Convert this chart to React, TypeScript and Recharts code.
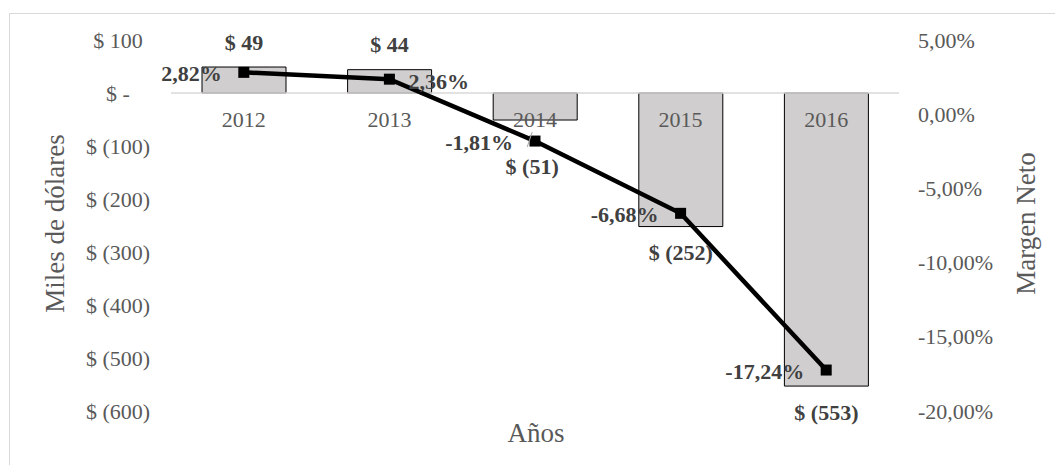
import React from 'react';
import { ComposedChart, Bar, Line, XAxis, YAxis, ReferenceLine, LabelList } from 'recharts';

const years = ['2012', '2013', '2014', '2015', '2016'];
const netIncome = [49, 44, -51, -252, -553];
const netMargin = [2.82, 2.36, -1.81, -6.68, -17.24];
const leftTicks = [100, 0, -100, -200, -300, -400, -500, -600];
const rightTicks = [5, 0, -5, -10, -15, -20];

const data = years.map((year, i) => ({ year, income: netIncome[i], margin: netMargin[i] }));

const FONT = '"Liberation Serif", "Times New Roman", serif';
const TICK_COLOR = '#595959';
const LABEL_COLOR = '#404040';
const TICK_SIZE = 22;
const LABEL_SIZE = 22;
const TITLE_SIZE = 27;

const lineLabelSide = ['left', 'right', 'left', 'left', 'left'];

const fmtMoney = (v: number) => (v === 0 ? '$ -' : v < 0 ? `$ (${-v})` : `$ ${v}`);
const fmtPct = (v: number) => `${v.toFixed(2).replace('.', ',')}%`;

const box = (p: any) => {
  const vb = p.viewBox || {};
  const x = p.x ?? vb.x ?? 0;
  const y = p.y ?? vb.y ?? 0;
  const width = p.width ?? vb.width ?? 0;
  const height = p.height ?? vb.height ?? 0;
  return { x: Number(x), y: Number(y), width: Number(width), height: Number(height) };
};

const LeftTick = (p: any) => (
  <text x={p.x - 53} y={p.y} textAnchor="middle" dominantBaseline="central" fill={TICK_COLOR}
    fontSize={TICK_SIZE} fontFamily={FONT}>{fmtMoney(p.payload.value)}</text>
);

const RightTick = (p: any) => (
  <text x={p.x + 19} y={p.y} textAnchor="start" dominantBaseline="central" fill={TICK_COLOR}
    fontSize={TICK_SIZE} fontFamily={FONT}>{fmtPct(p.payload.value)}</text>
);

const BarValueLabel = (p: any) => {
  const b = box(p);
  const v = Number(p.value);
  const cx = b.x + b.width / 2;
  const top = Math.min(b.y, b.y + b.height);
  const bottom = Math.max(b.y, b.y + b.height);
  const moved = p.index === 2;
  const lx = moved ? cx - 3 : cx;
  const ly = v >= 0 ? top - 25 : bottom + (moved ? 46 : 26);
  return (
    <g>
      {moved && (
        <line x1={lx - 5} y1={ly - 19} x2={lx} y2={ly - 34} stroke="#a6a6a6" strokeWidth={1} />
      )}
      <text x={lx} y={ly} textAnchor="middle" dominantBaseline="central" fill={LABEL_COLOR}
        fontSize={LABEL_SIZE} fontWeight="bold" fontFamily={FONT}>{fmtMoney(v)}</text>
    </g>
  );
};

const MarginLabel = (p: any) => {
  const b = box(p);
  const side = lineLabelSide[p.index] || 'left';
  const isLeft = side === 'left';
  return (
    <text x={isLeft ? b.x - 22 : b.x + 19} y={b.y + (isLeft ? 1 : 2)} textAnchor={isLeft ? 'end' : 'start'}
      dominantBaseline="central" fill={LABEL_COLOR} fontSize={LABEL_SIZE} fontWeight="bold"
      fontFamily={FONT}>{fmtPct(Number(p.value))}</text>
  );
};

const YearLabel = (p: any) => {
  const b = box(p);
  return (
    <text x={b.x} y={b.y + 26} textAnchor="middle" dominantBaseline="central" fill={TICK_COLOR}
      fontSize={TICK_SIZE} fontFamily={FONT}>{p.value}</text>
  );
};

const SquareDot = (p: any) => (
  <rect key={`dot-${p.index}`} x={p.cx - 5.5} y={p.cy - 5.5} width={11} height={11} fill="#000" />
);

const LeftTitle = (p: any) => {
  const vb = p.viewBox;
  const x = vb.x + 55;
  const y = vb.y + vb.height / 2 - 2;
  return (
    <text x={x} y={y} transform={`rotate(-90, ${x}, ${y})`} textAnchor="middle" dominantBaseline="central"
      fill={TICK_COLOR} fontSize={TITLE_SIZE} fontFamily={FONT}>Miles de dólares</text>
  );
};

const RightTitle = (p: any) => {
  const vb = p.viewBox;
  const x = vb.x + 127;
  const y = vb.y + vb.height / 2 - 2;
  return (
    <text x={x} y={y} transform={`rotate(-90, ${x}, ${y})`} textAnchor="middle" dominantBaseline="central"
      fill={TICK_COLOR} fontSize={TITLE_SIZE} fontFamily={FONT}>Margen Neto</text>
  );
};

const BottomTitle = (p: any) => {
  const vb = p.viewBox;
  return (
    <text x={vb.x + vb.width / 2 + 1} y={vb.y + 22} textAnchor="middle" dominantBaseline="central"
      fill={TICK_COLOR} fontSize={TITLE_SIZE} fontFamily={FONT}>Años</text>
  );
};

export default function App() {
  return (
    <div style={{ position: 'absolute', left: 0, top: 0, width: 1055, height: 465, overflow: 'hidden', background: '#fff' }}>
      <div style={{ position: 'absolute', left: 9, top: 13, width: 1100, height: 500, border: '1px solid #d9d9d9', boxSizing: 'border-box' }} />
      <div style={{ position: 'absolute', left: 0, top: 0 }}>
        <ComposedChart width={1055} height={465} data={data}
          margin={{ top: 40, right: 0, bottom: 0, left: 0 }} style={{ fontFamily: FONT }}>
          <XAxis dataKey="year" xAxisId="x" height={54} axisLine={false} tickLine={false} tick={false}
            label={{ content: BottomTitle }} />
          <YAxis yAxisId="left" width={171} domain={[-600, 100]} ticks={leftTicks} interval={0}
            axisLine={false} tickLine={false} tickSize={0} tickMargin={0} tick={LeftTick}
            allowDataOverflow label={{ content: LeftTitle }} />
          <YAxis yAxisId="right" orientation="right" width={156} domain={[-20, 5]} ticks={rightTicks}
            interval={0} axisLine={false} tickLine={false} tickSize={0} tickMargin={0} tick={RightTick}
            allowDataOverflow label={{ content: RightTitle }} />
          <ReferenceLine yAxisId="left" xAxisId="x" y={0} stroke="#d9d9d9" strokeWidth={1.5} />
          <Bar xAxisId="x" yAxisId="left" dataKey="income" barSize={84} fill="#d0cece" stroke="#000"
            strokeWidth={1} isAnimationActive={false}>
            <LabelList dataKey="income" content={BarValueLabel} />
          </Bar>
          <Line xAxisId="x" yAxisId="left" dataKey={() => 0} stroke="none" dot={false} activeDot={false}
            isAnimationActive={false} legendType="none">
            <LabelList dataKey="year" content={YearLabel} />
          </Line>
          <Line xAxisId="x" yAxisId="right" dataKey="margin" stroke="#000" strokeWidth={4.5}
            dot={SquareDot} activeDot={false} isAnimationActive={false}>
            <LabelList dataKey="margin" content={MarginLabel} />
          </Line>
        </ComposedChart>
      </div>
    </div>
  );
}
